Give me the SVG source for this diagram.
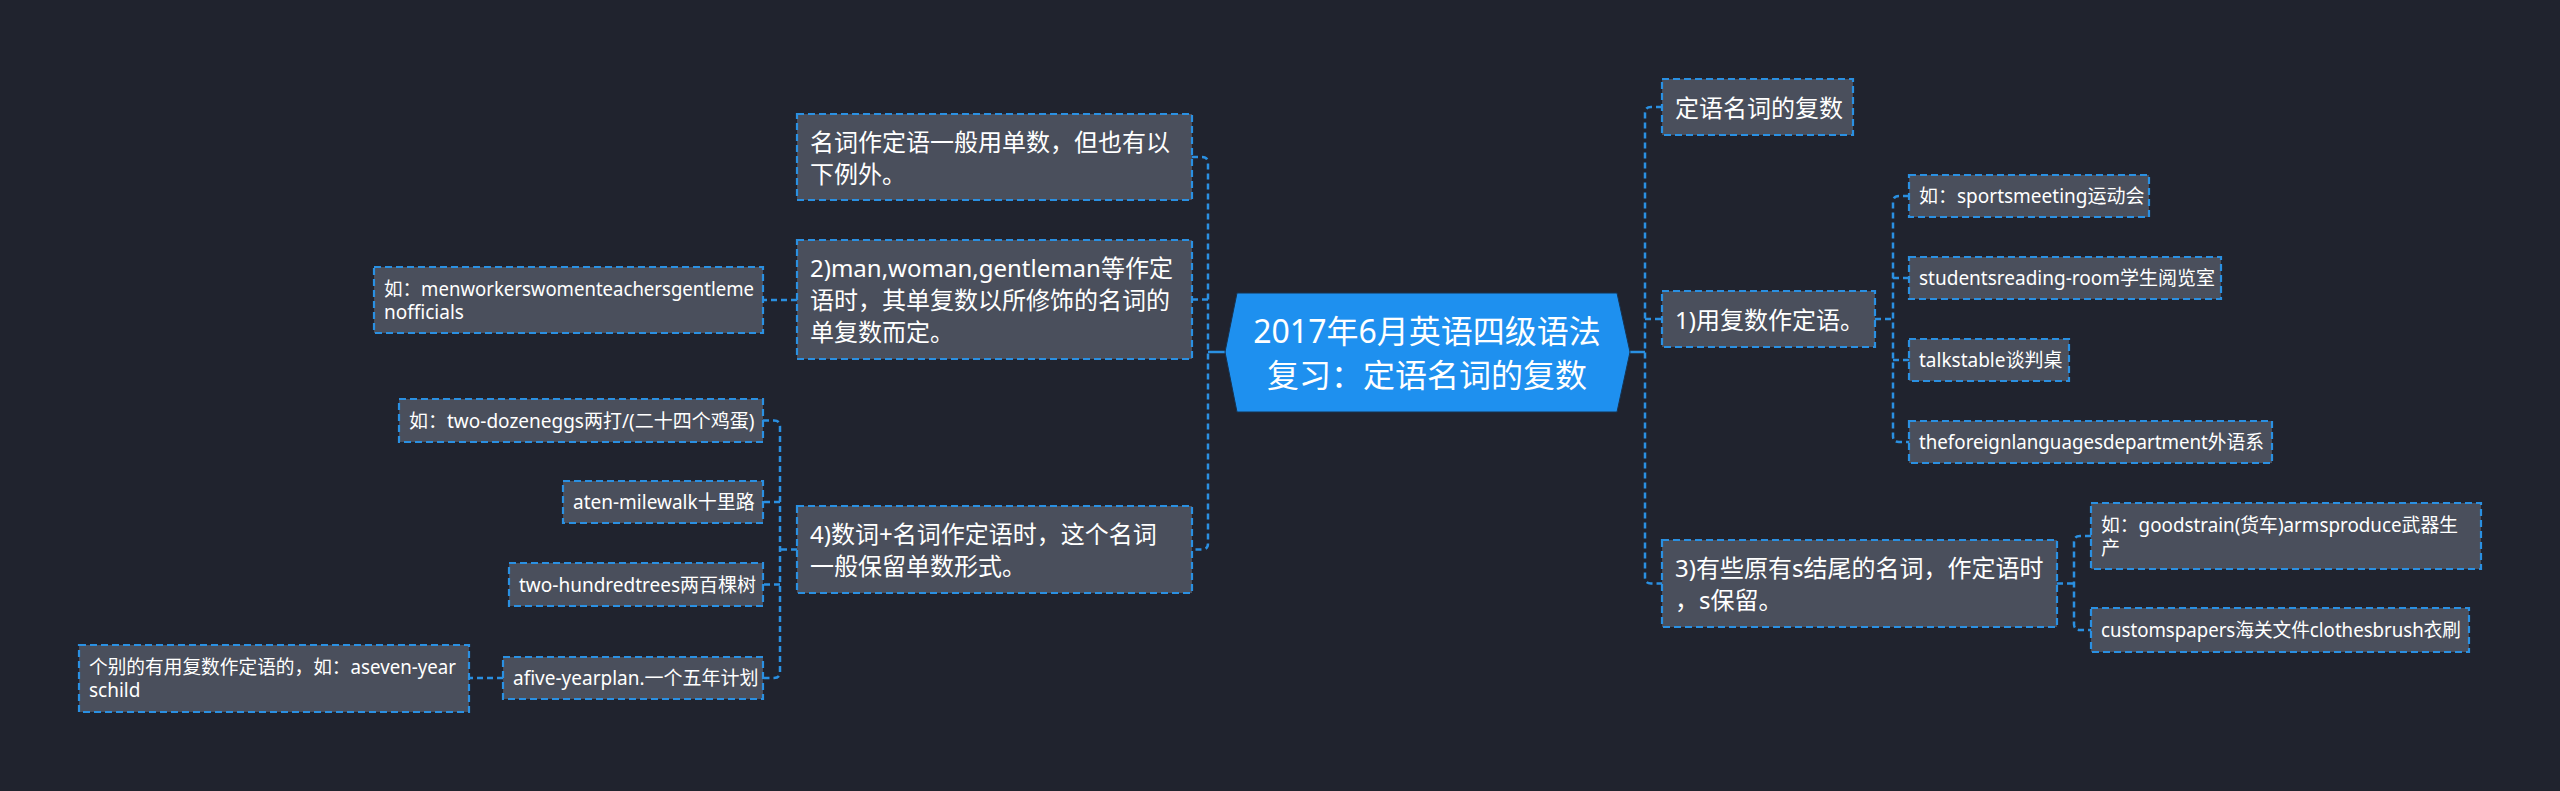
<svg xmlns="http://www.w3.org/2000/svg" width="2560" height="791" viewBox="0 0 2560 791">
<style>
.bg{fill:#20232e}
.box{fill:#4a4f5c;stroke:#2a90e2;stroke-width:2.2;stroke-dasharray:7 4}
.t{fill:#ffffff;font-family:"Noto Sans","Noto Sans CJK SC",sans-serif}
.t1{font-size:24px}
.t2{font-size:19px}
.tc{font-size:32px;text-anchor:middle}
.c{fill:none;stroke:#2a90e2;stroke-width:2.5;stroke-dasharray:6 4}
.cs{fill:none;stroke:#2a90e2;stroke-width:2.5}
</style>
<rect class="bg" x="0" y="0" width="2560" height="791"/>

<g id="connectors">
  <path class="cs" d="M1225 352 H1208"/>
  <path class="c" d="M1192 157 H1202 Q1208 157 1208 163 V543.5 Q1208 549.5 1202 549.5 H1192"/>
  <path class="c" d="M1208 299.5 H1192"/>
  <path class="c" d="M797 300 H763"/>
  <path class="c" d="M797 549.5 H780"/>
  <path class="c" d="M763 420.5 H774 Q780 420.5 780 426.5 V672 Q780 678 774 678 H763"/>
  <path class="c" d="M780 502 H763"/>
  <path class="c" d="M780 584.5 H763"/>
  <path class="c" d="M503 678 H469"/>
  <path class="cs" d="M1630 352 H1645"/>
  <path class="c" d="M1662 107 H1651 Q1645 107 1645 113 V577.5 Q1645 583.5 1651 583.5 H1662"/>
  <path class="c" d="M1645 319 H1662"/>
  <path class="c" d="M1875 319 H1893"/>
  <path class="c" d="M1909 196 H1899 Q1893 196 1893 202 V436 Q1893 442 1899 442 H1909"/>
  <path class="c" d="M1893 278 H1909"/>
  <path class="c" d="M1893 360 H1909"/>
  <path class="c" d="M2057 583.5 H2074"/>
  <path class="c" d="M2091 536 H2080 Q2074 536 2074 542 V624 Q2074 630 2080 630 H2091"/>
</g>

<g id="center">
  <polygon points="1225,352 1237,293 1617,293 1630,352 1617,412 1237,412" fill="#1e90ef" stroke="#17324f" stroke-width="1"/>
  <text class="t tc" x="1427" y="343">2017年6月英语四级语法</text>
  <text class="t tc" x="1427" y="387">复习：定语名词的复数</text>
</g>

<g id="n-left1">
  <rect class="box" x="797" y="114" width="395" height="86"/>
  <text class="t t1" x="810" y="150.5">名词作定语一般用单数，但也有以</text>
  <text class="t t1" x="810" y="182.5">下例外。</text>
</g>

<g id="n-left2">
  <rect class="box" x="797" y="240" width="395" height="119"/>
  <text class="t t1" x="810" y="277">2)man,woman,gentleman等作定</text>
  <text class="t t1" x="810" y="309">语时，其单复数以所修饰的名词的</text>
  <text class="t t1" x="810" y="341">单复数而定。</text>
</g>

<g id="n-left2-a">
  <rect class="box" x="374" y="267" width="389" height="66"/>
  <text class="t t2" x="384" y="295.5" textLength="370" lengthAdjust="spacingAndGlyphs">如：menworkerswomenteachersgentleme</text>
  <text class="t t2" x="384" y="318.5">nofficials</text>
</g>

<g id="n-left4">
  <rect class="box" x="797" y="506" width="395" height="87"/>
  <text class="t t1" x="810" y="543">4)数词+名词作定语时，这个名词</text>
  <text class="t t1" x="810" y="575">一般保留单数形式。</text>
</g>

<g id="n-left4-a">
  <rect class="box" x="399" y="399" width="364" height="43"/>
  <text class="t t2" x="409" y="427.5">如：two-dozeneggs两打/(二十四个鸡蛋)</text>
</g>
<g id="n-left4-b">
  <rect class="box" x="563" y="481" width="200" height="42"/>
  <text class="t t2" x="573" y="509">aten-milewalk十里路</text>
</g>
<g id="n-left4-c">
  <rect class="box" x="509" y="563" width="254" height="43"/>
  <text class="t t2" x="519" y="591.5">two-hundredtrees两百棵树</text>
</g>
<g id="n-left4-d">
  <rect class="box" x="503" y="657" width="260" height="42"/>
  <text class="t t2" x="513" y="685">afive-yearplan.一个五年计划</text>
</g>
<g id="n-left4-d-a">
  <rect class="box" x="79" y="645" width="390" height="67"/>
  <text class="t t2" x="89" y="674" textLength="367" lengthAdjust="spacingAndGlyphs">个别的有用复数作定语的，如：aseven-year</text>
  <text class="t t2" x="89" y="697">schild</text>
</g>

<g id="n-right0">
  <rect class="box" x="1662" y="79" width="191" height="56"/>
  <text class="t t1" x="1675" y="117">定语名词的复数</text>
</g>

<g id="n-right1">
  <rect class="box" x="1662" y="291" width="213" height="56"/>
  <text class="t t1" x="1675" y="329">1)用复数作定语。</text>
</g>
<g id="n-right1-a">
  <rect class="box" x="1909" y="175" width="240" height="42"/>
  <text class="t t2" x="1919" y="203">如：sportsmeeting运动会</text>
</g>
<g id="n-right1-b">
  <rect class="box" x="1909" y="257" width="312" height="42"/>
  <text class="t t2" x="1919" y="285">studentsreading-room学生阅览室</text>
</g>
<g id="n-right1-c">
  <rect class="box" x="1909" y="339" width="160" height="42"/>
  <text class="t t2" x="1919" y="367">talkstable谈判桌</text>
</g>
<g id="n-right1-d">
  <rect class="box" x="1909" y="421" width="363" height="42"/>
  <text class="t t2" x="1919" y="449" textLength="345" lengthAdjust="spacingAndGlyphs">theforeignlanguagesdepartment外语系</text>
</g>

<g id="n-right3">
  <rect class="box" x="1662" y="540" width="395" height="87"/>
  <text class="t t1" x="1675" y="577">3)有些原有s结尾的名词，作定语时</text>
  <text class="t t1" x="1675" y="609">，s保留。</text>
</g>
<g id="n-right3-a">
  <rect class="box" x="2091" y="503" width="390" height="66"/>
  <text class="t t2" x="2101" y="531.5" textLength="357" lengthAdjust="spacingAndGlyphs">如：goodstrain(货车)armsproduce武器生</text>
  <text class="t t2" x="2101" y="554.5">产</text>
</g>
<g id="n-right3-b">
  <rect class="box" x="2091" y="608" width="378" height="44"/>
  <text class="t t2" x="2101" y="637" textLength="360" lengthAdjust="spacingAndGlyphs">customspapers海关文件clothesbrush衣刷</text>
</g>
</svg>
